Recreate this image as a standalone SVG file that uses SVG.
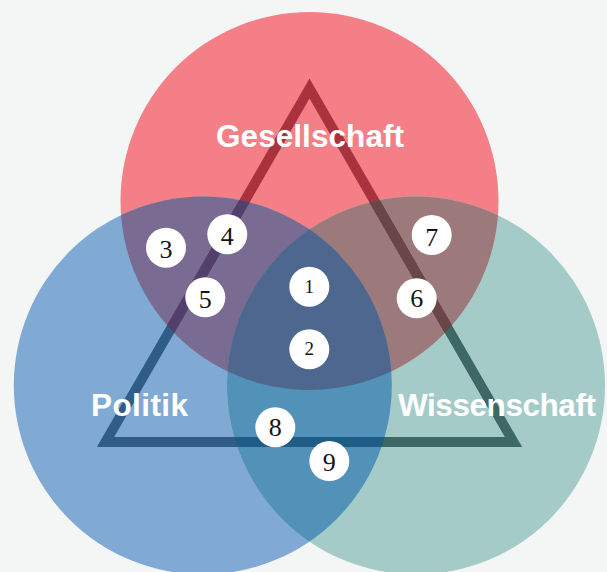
<svg xmlns="http://www.w3.org/2000/svg" xmlns:xlink="http://www.w3.org/1999/xlink" width="607" height="572" viewBox="0 0 607 572">
<style>
.lbl{font-family:"Liberation Sans",Arial,sans-serif;font-weight:bold;font-size:31.5px;fill:#ffffff;text-anchor:middle}
.badge{fill:#ffffff}
.n{font-family:"Liberation Serif","Times New Roman",serif;font-size:26px;fill:#151515;text-anchor:middle}
.ns{font-family:"Liberation Serif","Times New Roman",serif;font-size:19px;fill:#151515;text-anchor:middle}
.tri{fill:none;stroke-width:10;stroke-linejoin:miter}
</style>
<defs>
<clipPath id="cR"><circle cx="309.5" cy="201" r="189"/></clipPath>
<clipPath id="cB"><circle cx="202.8" cy="385.5" r="189"/></clipPath>
<clipPath id="cT"><circle cx="416" cy="385.5" r="189"/></clipPath>
<path id="tri" d="M309.5,88.5 L513.5,442 L105.5,442 Z"/>
</defs>
<rect x="0" y="0" width="607" height="572" fill="#f4f6f5"/>
<g id="circles">
<circle id="gesellschaft-circle" cx="309.5" cy="201" r="189" fill="#f47f87"/>
<circle id="politik-circle" cx="202.8" cy="385.5" r="189" fill="#80aad3"/>
<circle id="wissenschaft-circle" cx="416" cy="385.5" r="189" fill="#a5cbc8"/>
<g clip-path="url(#cB)"><circle cx="309.5" cy="201" r="189" fill="#7a6b93"/></g>
<g clip-path="url(#cT)"><circle cx="309.5" cy="201" r="189" fill="#9c7a7b"/></g>
<g clip-path="url(#cT)"><circle cx="202.8" cy="385.5" r="189" fill="#5291b8"/></g>
<g clip-path="url(#cT)"><g clip-path="url(#cB)"><circle cx="309.5" cy="201" r="189" fill="#4d678e"/></g></g>
</g>
<g id="connectors">
<use xlink:href="#tri" class="tri" stroke="#a8333f" clip-path="url(#cR)"/>
<use xlink:href="#tri" class="tri" stroke="#2f5d87" clip-path="url(#cB)"/>
<use xlink:href="#tri" class="tri" stroke="#3d6865" clip-path="url(#cT)"/>
<g clip-path="url(#cB)"><use xlink:href="#tri" class="tri" stroke="#533f6b" clip-path="url(#cR)"/></g>
<g clip-path="url(#cT)"><use xlink:href="#tri" class="tri" stroke="#6b4649" clip-path="url(#cR)"/></g>
<g clip-path="url(#cT)"><use xlink:href="#tri" class="tri" stroke="#1f5c86" clip-path="url(#cB)"/></g>
</g>
<g id="label-gesellschaft"><text class="lbl" x="310" y="146.5" textLength="188" lengthAdjust="spacing">Gesellschaft</text></g>
<g id="label-politik"><text class="lbl" x="139.5" y="416" textLength="97" lengthAdjust="spacing">Politik</text></g>
<g id="label-wissenschaft"><text class="lbl" x="497" y="416" textLength="198" lengthAdjust="spacing">Wissenschaft</text></g>
<g id="node-1"><circle class="badge" cx="309.3" cy="286.7" r="20"/><text class="ns" x="309.3" y="292.5">1</text></g>
<g id="node-2"><circle class="badge" cx="309.3" cy="349.3" r="20"/><text class="ns" x="309.3" y="355">2</text></g>
<g id="node-3"><circle class="badge" cx="166" cy="247.7" r="20"/><text class="n" x="166" y="257.5">3</text></g>
<g id="node-4"><circle class="badge" cx="227.3" cy="234.3" r="20"/><text class="n" x="227.3" y="244.5">4</text></g>
<g id="node-5"><circle class="badge" cx="205.3" cy="297.3" r="20"/><text class="n" x="205.3" y="307.5">5</text></g>
<g id="node-6"><circle class="badge" cx="416.7" cy="298.3" r="20"/><text class="n" x="416.7" y="306.8">6</text></g>
<g id="node-7"><circle class="badge" cx="431.7" cy="235" r="20"/><text class="n" x="431.7" y="245.5">7</text></g>
<g id="node-8"><circle class="badge" cx="275.3" cy="427.3" r="20"/><text class="n" x="275.3" y="436">8</text></g>
<g id="node-9"><circle class="badge" cx="329.3" cy="461" r="20"/><text class="n" x="329.3" y="471">9</text></g>
</svg>
